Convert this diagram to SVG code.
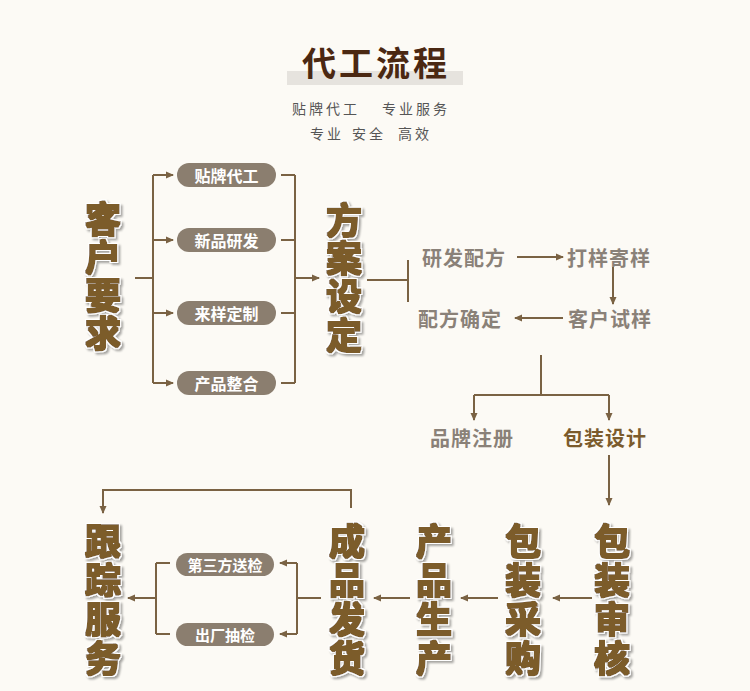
<svg xmlns="http://www.w3.org/2000/svg" width="750" height="691" viewBox="0 0 750 691">
<style>
.big{font-family:"Noto Sans CJK SC","Noto Sans CJK JP",sans-serif;font-weight:bold;font-size:36px;fill:#7b5b2c;text-anchor:middle;dominant-baseline:central;filter:url(#bf)}
.pill{fill:#8b7e6f}
.pt{font-family:"Noto Sans CJK SC","Noto Sans CJK JP",sans-serif;font-weight:bold;font-size:16px;fill:#fff;text-anchor:middle;dominant-baseline:central}
.pt2{font-size:15px}
.gt{font-family:"Noto Sans CJK SC","Noto Sans CJK JP",sans-serif;font-weight:bold;font-size:20px;fill:#8a8178;dominant-baseline:central;letter-spacing:1px}
.bt{fill:#7b5b2c}
.sub{font-family:"Noto Sans CJK SC","Noto Sans CJK JP",sans-serif;font-size:14px;fill:#555;letter-spacing:3px}
.ln{fill:none;stroke:#7a6243;stroke-width:2}
.ar{marker-end:url(#ah)}
</style>
<defs>
<filter id="bf" x="-30%" y="-30%" width="160%" height="160%">
<feMorphology in="SourceAlpha" operator="dilate" radius="0.6" result="thick"/>
<feFlood flood-color="#7b5b2c"/>
<feComposite in2="thick" operator="in" result="brown"/>
<feMorphology in="SourceAlpha" operator="dilate" radius="2.3" result="outl"/>
<feFlood flood-color="#ffffff"/>
<feComposite in2="outl" operator="in" result="white"/>
<feGaussianBlur in="outl" stdDeviation="1"/>
<feOffset dx="1.5" dy="1.5"/>
<feComponentTransfer result="sh"><feFuncA type="linear" slope="0.35"/></feComponentTransfer>
<feMerge>
<feMergeNode in="sh"/>
<feMergeNode in="white"/>
<feMergeNode in="brown"/>
</feMerge>
</filter>
<marker id="ah" markerUnits="userSpaceOnUse" markerWidth="8" markerHeight="8" refX="7" refY="4" orient="auto">
<path d="M0,0.5 L8,4 L0,7.5 z" fill="#7a6243"/>
</marker>
</defs>
<rect width="750" height="691" fill="#fcfaf5"/>

<g id="title">
<rect x="287" y="71" width="176" height="14" fill="#e6e3de"/>
<text x="376" y="76" font-family="Noto Sans CJK SC, sans-serif" font-weight="bold" font-size="34" fill="#4b2812" text-anchor="middle" letter-spacing="3">代工流程</text>
<text x="292" y="114" class="sub">贴牌代工</text>
<text x="382" y="114" class="sub">专业服务</text>
<text x="310" y="139" class="sub">专业</text>
<text x="352" y="139" class="sub">安全</text>
<text x="398" y="139" class="sub">高效</text>
</g>

<g id="connectors">
<path class="ln" d="M135,278 H153 M153,175 V383"/>
<path class="ln ar" d="M153,175 H173"/>
<path class="ln ar" d="M153,240 H173"/>
<path class="ln ar" d="M153,313 H173"/>
<path class="ln ar" d="M153,383 H173"/>
<path class="ln" d="M281,175 H295 M281,240 H295 M281,313 H295 M281,383 H295 M295,175 V383"/>
<path class="ln ar" d="M295,278 H319"/>
<path class="ln" d="M367,280 H408 M408,260 V302"/>
<path class="ln ar" d="M517,257 H563"/>
<path class="ln ar" d="M613,267 V304"/>
<path class="ln ar" d="M563,318 H515"/>
<path class="ln" d="M541,355 V395 M474,395 H609"/>
<path class="ln ar" d="M474,395 V420"/>
<path class="ln ar" d="M609,395 V420"/>
<path class="ln ar" d="M609,455 V505"/>
<path class="ln ar" d="M592,598 H553"/>
<path class="ln ar" d="M498,598 H461"/>
<path class="ln ar" d="M410,598 H374"/>
<path class="ln" d="M321,598 H297 M297,563 V634"/>
<path class="ln ar" d="M297,563 H280"/>
<path class="ln ar" d="M297,634 H280"/>
<path class="ln" d="M170,563 H156 M170,634 H156 M156,563 V634"/>
<path class="ln ar" d="M156,598 H128"/>
<path class="ln ar" d="M351,508 V490 H103 V513"/>
</g>

<g id="kehu-yaoqiu">
<text class="big" x="103" y="217">客</text>
<text class="big" x="103" y="255">户</text>
<text class="big" x="103" y="293">要</text>
<text class="big" x="103" y="331">求</text>
</g>

<g id="tiepai"><rect class="pill" x="177" y="163" width="99" height="24" rx="12"/><text class="pt" x="226.5" y="175">贴牌代工</text></g>
<g id="xinpin"><rect class="pill" x="177" y="228" width="99" height="24" rx="12"/><text class="pt" x="226.5" y="240">新品研发</text></g>
<g id="laiyang"><rect class="pill" x="177" y="301" width="99" height="24" rx="12"/><text class="pt" x="226.5" y="313">来样定制</text></g>
<g id="chanpin"><rect class="pill" x="177" y="371" width="99" height="24" rx="12"/><text class="pt" x="226.5" y="383">产品整合</text></g>

<g id="fangan">
<text class="big" x="344" y="218">方</text>
<text class="big" x="344" y="256">案</text>
<text class="big" x="344" y="294">设</text>
<text class="big" x="344" y="333">定</text>
</g>

<g id="yanfa"><text class="gt" x="422" y="257">研发配方</text></g>
<g id="dayang"><text class="gt" x="567" y="257">打样寄样</text></g>
<g id="kehushiyang"><text class="gt" x="568" y="318">客户试样</text></g>
<g id="peifang"><text class="gt" x="418" y="318">配方确定</text></g>
<g id="pinpai"><text class="gt" x="430" y="437">品牌注册</text></g>
<g id="baozhuangsheji"><text class="gt bt" x="563" y="437">包装设计</text></g>

<g id="baozhuang-shenhe">
<text class="big" x="612" y="539">包</text>
<text class="big" x="612" y="578">装</text>
<text class="big" x="612" y="617">审</text>
<text class="big" x="612" y="656">核</text>
</g>
<g id="baozhuang-caigou">
<text class="big" x="523" y="539">包</text>
<text class="big" x="523" y="578">装</text>
<text class="big" x="523" y="617">采</text>
<text class="big" x="523" y="656">购</text>
</g>
<g id="chanpin-shengchan">
<text class="big" x="434" y="539">产</text>
<text class="big" x="434" y="578">品</text>
<text class="big" x="434" y="617">生</text>
<text class="big" x="434" y="656">产</text>
</g>
<g id="chengpin-fahuo">
<text class="big" x="347" y="539">成</text>
<text class="big" x="347" y="578">品</text>
<text class="big" x="347" y="617">发</text>
<text class="big" x="347" y="656">货</text>
</g>

<g id="disanfang"><rect class="pill" x="176" y="553" width="98" height="23" rx="11.5"/><text class="pt pt2" x="225" y="564.5">第三方送检</text></g>
<g id="chuchang"><rect class="pill" x="176" y="623" width="98" height="23" rx="11.5"/><text class="pt pt2" x="225" y="634.5">出厂抽检</text></g>

<g id="genzong">
<text class="big" x="103" y="539">跟</text>
<text class="big" x="103" y="578">踪</text>
<text class="big" x="103" y="617">服</text>
<text class="big" x="103" y="656">务</text>
</g>
</svg>
